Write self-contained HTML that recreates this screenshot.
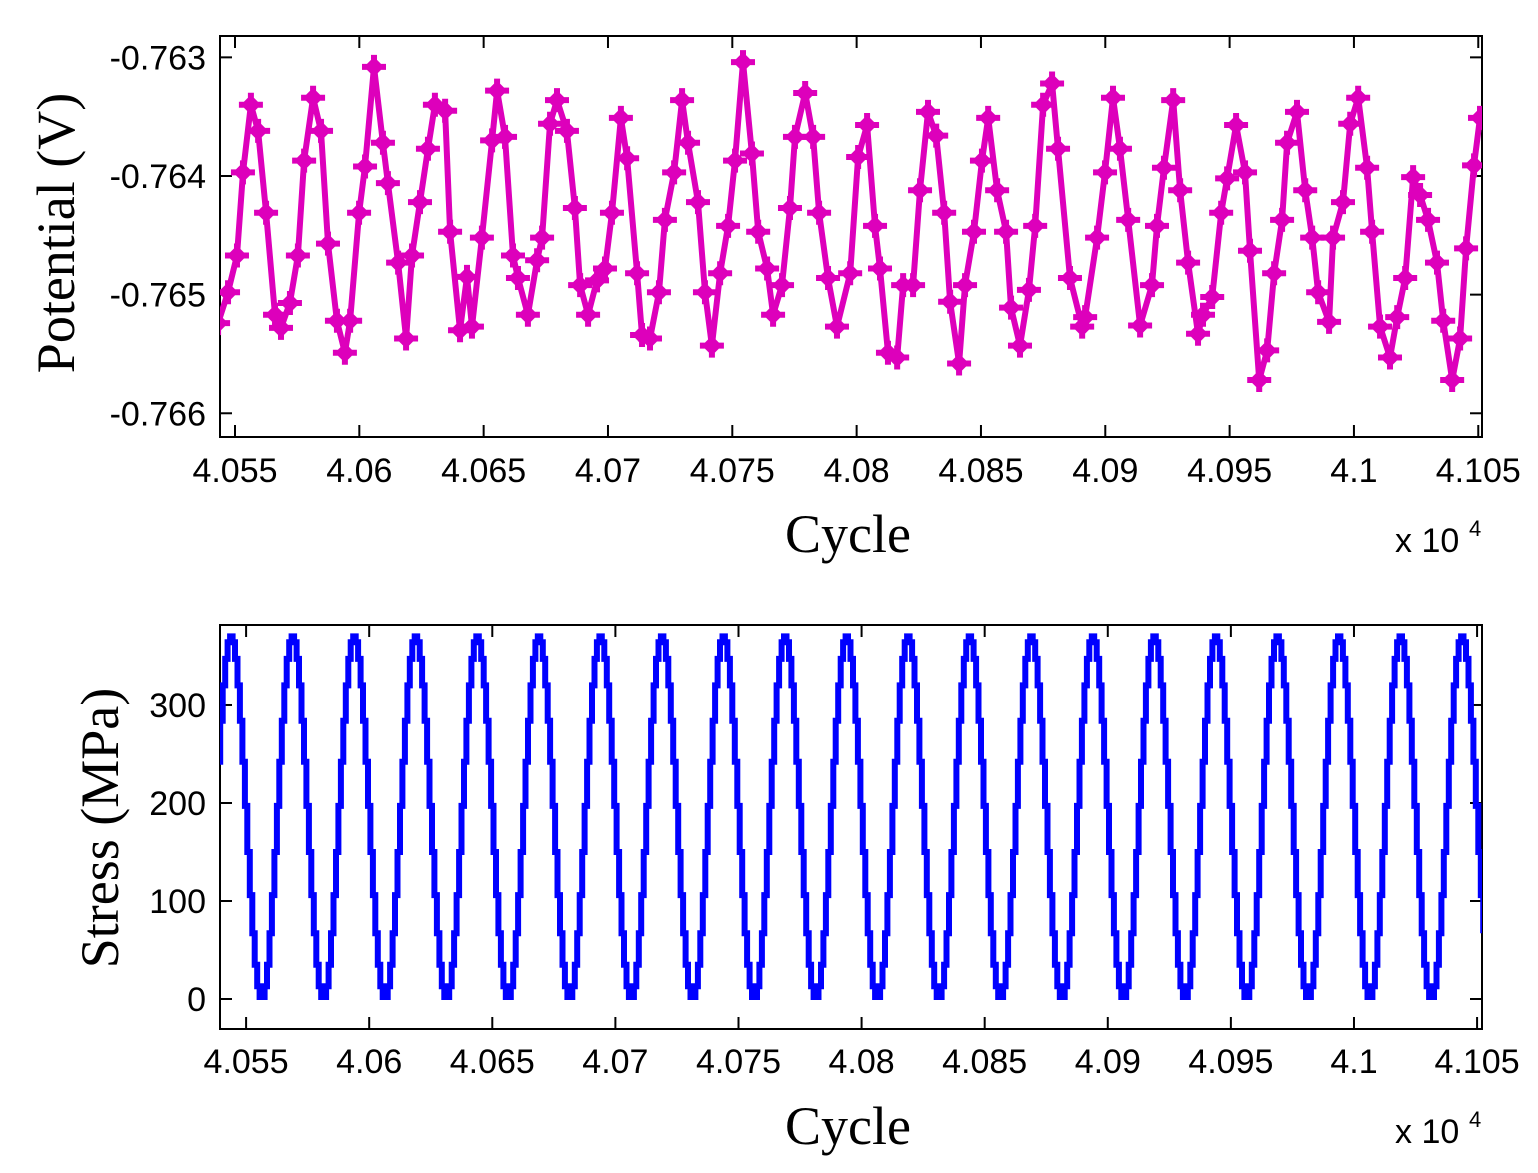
<!DOCTYPE html>
<html><head><meta charset="utf-8">
<style>
html,body{margin:0;padding:0;background:#fff;}
svg{display:block;}
.tk{font-family:"Liberation Sans",Arial,sans-serif;font-size:34px;fill:#000;}
.ex{font-family:"Liberation Sans",Arial,sans-serif;font-size:22px;fill:#000;}
.ttl{font-family:"Liberation Serif","Times New Roman",serif;font-size:54px;fill:#000;}
</style></head>
<body>
<svg id="chart" width="1538" height="1173" viewBox="0 0 1538 1173" xmlns="http://www.w3.org/2000/svg"></svg>
<script>
// ---- Top chart data (Potential vs Cycle) ----
const potCycles = [40543.2,40547.2,40550.8,40553.2,40556.4,40559.3,40562.5,40566.1,40568.5,40572.1,40575.3,40577.8,40581.4,40584.6,40587.4,40591.0,40594.2,40596.3,40599.9,40602.3,40605.9,40609.5,40611.5,40615.6,40618.8,40621.2,40624.4,40627.6,40630.4,40634.5,40636.5,40640.5,40643.3,40645.3,40649.3,40653.4,40655.4,40658.6,40661.8,40663.8,40667.8,40671.5,40673.5,40676.7,40679.5,40683.5,40686.7,40688.8,40692.0,40695.6,40698.8,40701.6,40705.2,40707.7,40711.7,40713.7,40716.9,40720.5,40722.9,40726.6,40729.8,40732.2,40736.2,40739.0,40741.8,40745.1,40748.3,40751.1,40754.3,40757.9,40760.4,40764.0,40766.4,40770.0,40773.2,40775.2,40779.3,40782.5,40784.9,40788.5,40792.1,40797.4,40800.6,40804.2,40807.4,40809.4,40812.6,40816.3,40818.7,40822.7,40825.5,40828.7,40832.0,40835.2,40837.6,40841.2,40843.6,40847.2,40850.4,40852.9,40856.5,40860.1,40862.1,40865.7,40869.3,40871.8,40875.0,40878.6,40881.0,40885.8,40890.7,40891.9,40896.7,40899.9,40903.1,40905.9,40909.2,40914.0,40918.8,40920.8,40923.6,40927.3,40930.1,40933.3,40937.3,40939.3,40943.0,40946.6,40949.0,40952.6,40956.2,40958.2,40961.9,40965.1,40967.9,40971.1,40973.1,40977.1,40980.4,40983.2,40985.6,40990.0,40991.6,40995.6,40998.5,41001.7,41005.3,41007.3,41010.5,41014.5,41017.4,41020.6,41023.8,41026.6,41029.8,41033.4,41035.9,41039.5,41042.7,41045.1,41048.3,41050.7];
const potValues = [-0.76524,-0.76498,-0.76467,-0.76397,-0.76340,-0.76362,-0.76431,-0.76517,-0.76528,-0.76507,-0.76467,-0.76387,-0.76334,-0.76362,-0.76457,-0.76522,-0.76549,-0.76522,-0.76431,-0.76392,-0.76308,-0.76372,-0.76406,-0.76473,-0.76537,-0.76467,-0.76422,-0.76377,-0.76340,-0.76345,-0.76447,-0.76530,-0.76485,-0.76527,-0.76452,-0.76370,-0.76328,-0.76367,-0.76467,-0.76486,-0.76517,-0.76471,-0.76452,-0.76356,-0.76336,-0.76362,-0.76427,-0.76492,-0.76517,-0.76488,-0.76478,-0.76431,-0.76351,-0.76385,-0.76482,-0.76534,-0.76537,-0.76498,-0.76437,-0.76397,-0.76336,-0.76372,-0.76422,-0.76498,-0.76543,-0.76482,-0.76442,-0.76387,-0.76304,-0.76381,-0.76447,-0.76478,-0.76517,-0.76492,-0.76427,-0.76367,-0.76330,-0.76367,-0.76431,-0.76486,-0.76527,-0.76482,-0.76384,-0.76357,-0.76442,-0.76478,-0.76549,-0.76553,-0.76492,-0.76492,-0.76412,-0.76346,-0.76366,-0.76431,-0.76506,-0.76558,-0.76492,-0.76447,-0.76387,-0.76351,-0.76412,-0.76447,-0.76511,-0.76543,-0.76496,-0.76442,-0.76340,-0.76322,-0.76377,-0.76486,-0.76527,-0.76519,-0.76452,-0.76397,-0.76334,-0.76377,-0.76437,-0.76526,-0.76492,-0.76442,-0.76393,-0.76336,-0.76412,-0.76473,-0.76533,-0.76517,-0.76502,-0.76431,-0.76402,-0.76357,-0.76397,-0.76463,-0.76572,-0.76547,-0.76482,-0.76437,-0.76372,-0.76346,-0.76412,-0.76452,-0.76498,-0.76523,-0.76452,-0.76422,-0.76356,-0.76334,-0.76393,-0.76447,-0.76527,-0.76553,-0.76519,-0.76486,-0.76401,-0.76416,-0.76437,-0.76473,-0.76522,-0.76572,-0.76537,-0.76461,-0.76391,-0.76351];
const xTickValues = [40550,40600,40650,40700,40750,40800,40850,40900,40950,41000,41050];
const xTickLabels = ["4.055","4.06","4.065","4.07","4.075","4.08","4.085","4.09","4.095","4.1","4.105"];
const potTickValues = [-0.763,-0.764,-0.765,-0.766];
const potTickLabels = ["-0.763","-0.764","-0.765","-0.766"];
// ---- Bottom chart data (Stress vs Cycle) ----
const stressPeriod = [370,364,347,320,284,242,197,150,106,67,35,13,2,2,13,35,67,106,150,197,242,284,320,347,364];
const stressFirstPeakCycle = 40543.5;
const stressStartCycle = 40539.4;
const stressEndCycle = 41052;
const stressTickValues = [0,100,200,300];
const stressTickLabels = ["0","100","200","300"];

const NS = "http://www.w3.org/2000/svg";
const svg = document.getElementById('chart');
function mk(tag, attrs, parent){
  const e = document.createElementNS(NS, tag);
  for (const k in attrs) e.setAttribute(k, attrs[k]);
  (parent||svg).appendChild(e);
  return e;
}
function lin(d0,d1,r0,r1){ return v => r0 + (v-d0)*(r1-r0)/(d1-d0); }

function drawAxes(g, L, T, R, B, xs, ys, yTicks, yLabels, xLabelY){
  const box = mk('rect',{x:L,y:T,width:R-L,height:B-T,fill:'none',stroke:'#000','stroke-width':2},g);
  
  
  xTickValues.forEach((v,i)=>{
    const x = xs(v);
    const t1 = mk('line',{x1:x,y1:B,x2:x,y2:B-12,stroke:'#000','stroke-width':2},g);
    
    
    const t2 = mk('line',{x1:x,y1:T,x2:x,y2:T+12,stroke:'#000','stroke-width':2},g);
    
    
    const tx = mk('text',{x:x,y:xLabelY,'text-anchor':'middle',class:'tk'},g);
    
    
    tx.textContent = xTickLabels[i];
  });
  yTicks.forEach((v,i)=>{
    const y = ys(v);
    const t1 = mk('line',{x1:L,y1:y,x2:L+12,y2:y,stroke:'#000','stroke-width':2},g);
    
    
    const t2 = mk('line',{x1:R,y1:y,x2:R-12,y2:y,stroke:'#000','stroke-width':2},g);
    
    
    const tx = mk('text',{x:L-14,y:y+12,'text-anchor':'end',class:'tk'},g);
    
    
    tx.textContent = yLabels[i];
  });
}

function exponent(g, y){
  const ex = mk('text',{x:1395,y:y,class:'tk'},g);
  
  
  ex.textContent='x 10';
  const ex2 = mk('text',{x:1469,y:y-16,class:'ex'},g);
  
  
  ex2.textContent='4';
}

// ---- Top chart ----
(function(){
  const L=220,T=36,R=1482,B=437;
  const g = mk('g',{});
  
  
  const xs = lin(40543.97,41051.5,L,R);
  const ys = lin(-0.76282,-0.7662,T,B);
  const clip = mk('clipPath',{id:'c1'}); mk('rect',{x:L,y:T,width:R-L,height:B-T},clip);
  drawAxes(g,L,T,R,B,xs,ys,potTickValues,potTickLabels,482);
  const sg = mk('g',{'clip-path':'url(#c1)'},g);
  
  
  const pts = potCycles.map((c,i)=>xs(c).toFixed(1)+','+ys(potValues[i]).toFixed(1)).join(' ');
  const pl = mk('polyline',{points:pts,fill:'none',stroke:'#DD00BB','stroke-width':6,'stroke-linejoin':'round'},sg);
  
  
  potCycles.forEach((c,i)=>{
    const x=xs(c), y=ys(potValues[i]);
    const m = mk('path',{d:`M${x-10},${y}L${x},${y-10}L${x+10},${y}L${x},${y+10}Z M${x-12},${y-3}h24v6h-24Z M${x-3},${y-12}h6v24h-6Z`,fill:'#DD00BB'},sg);
    
    
  });
  const yt = mk('text',{x:0,y:0,transform:'translate(74,233) rotate(-90)','text-anchor':'middle',class:'ttl'},g);
  
  
  yt.textContent='Potential (V)';
  const xt = mk('text',{x:848,y:552,'text-anchor':'middle',class:'ttl'},g);
  
  
  xt.textContent='Cycle';
  exponent(g,552);
})();

// ---- Bottom chart ----
(function(){
  const L=220,T=625,R=1482,B=1029;
  const g = mk('g',{});
  
  
  const xs = lin(40539.4,41052.0,L,R);
  const ys = lin(381.6,-30.6,T,B);
  const clip = mk('clipPath',{id:'c2'}); mk('rect',{x:L,y:T,width:R-L,height:B-T},clip);
  drawAxes(g,L,T,R,B,xs,ys,stressTickValues,stressTickLabels,1073);
  const n = stressPeriod.length;
  const pts=[];
  const k0 = Math.floor(stressStartCycle - stressFirstPeakCycle);
  let prevY = null;
  for (let k=k0; stressFirstPeakCycle+k <= stressEndCycle+1; k++){
    const idx = ((k % n)+n)%n;
    const x = xs(stressFirstPeakCycle+k), y = ys(stressPeriod[idx]);
    if (prevY!==null) pts.push(x.toFixed(1)+','+prevY.toFixed(1));
    pts.push(x.toFixed(1)+','+y.toFixed(1));
    prevY = y;
  }
  const sg = mk('g',{'clip-path':'url(#c2)'},g);
  const pl = mk('polyline',{points:pts.join(' '),fill:'none',stroke:'#0000FF','stroke-width':6,'stroke-linejoin':'miter'},sg);
  
  
  const yt = mk('text',{x:0,y:0,transform:'translate(118,828) rotate(-90)','text-anchor':'middle',class:'ttl'},g);
  
  
  yt.textContent='Stress (MPa)';
  const xt = mk('text',{x:848,y:1144,'text-anchor':'middle',class:'ttl'},g);
  
  
  xt.textContent='Cycle';
  exponent(g,1143);
})();
</script>
</body></html>
